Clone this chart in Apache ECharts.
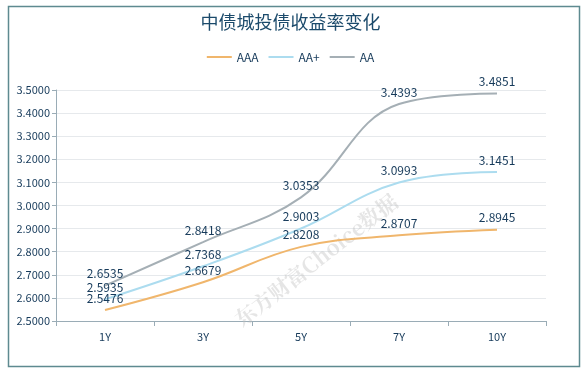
<!DOCTYPE html>
<html><head><meta charset="utf-8">
<script src="https://cdn.jsdelivr.net/npm/echarts@6/dist/echarts.min.js"></script>
<style>html,body{margin:0;padding:0;background:#fff}#c{width:581px;height:368px}</style>
</head><body><div id="c"></div>
<script>
var categories = ['1Y','3Y','5Y','7Y','10Y'];
var aaa = [2.5476, 2.6679, 2.8208, 2.8707, 2.8945];
var aaPlus = [2.5935, 2.7368, 2.9003, 3.0993, 3.1451];
var aa = [2.6535, 2.8418, 3.0353, 3.4393, 3.4851];
var seriesNames = ['AAA','AA+','AA'];

var chart = echarts.init(document.getElementById('c'));
var font = '"Noto Sans CJK SC", "Microsoft YaHei", sans-serif';
function mk(name, data, color){
  return {name:name, type:'line', data:data, smooth:0.4,
    showSymbol:true, symbol:'circle', symbolSize:0,
    lineStyle:{color:color, width:2}, itemStyle:{color:color},
    label:{show:true, position:'top', distance:6, color:'#163a5a', fontSize:12, fontFamily:font,
      formatter:function(p){return Number(p.value).toFixed(4);}}, z:2};
}
chart.setOption({
  backgroundColor:'#fff',
  title:{text:'中债城投债收益率变化', left:'center', top:8,
    textStyle:{color:'#1b4a6b', fontSize:18, fontWeight:'normal', fontFamily:font}},
  legend:{data:seriesNames, top:46, left:'center', itemWidth:25, itemHeight:10, itemGap:10,
    icon:'path://M0,4L25,4L25,6L0,6Z',
    textStyle:{color:'#163a5a', fontSize:12, fontFamily:font}},
  grid:{left:56, right:35, top:90, bottom:47},
  xAxis:{type:'category', data:categories, boundaryGap:true,
    axisLine:{lineStyle:{color:'#9aacb6'}}, axisTick:{show:true, lineStyle:{color:'#9aacb6'}},
    axisLabel:{color:'#163a5a', fontSize:11, fontFamily:font, margin:10}},
  yAxis:{type:'value', min:2.5, max:3.5, interval:0.1,
    axisLine:{show:true, lineStyle:{color:'#9aacb6'}}, axisTick:{show:true, length:4, lineStyle:{color:'#9aacb6'}},
    splitLine:{lineStyle:{color:'#e6e9ec'}},
    axisLabel:{color:'#163a5a', fontSize:11, fontFamily:font, margin:6,
      formatter:function(v){return v.toFixed(4);}}},
  graphic:[
    {type:'rect', left:6, top:4, shape:{width:571, height:360}, style:{fill:'none', stroke:'#5e8a90', lineWidth:1.5}, silent:true, z:10},
    {type:'text', x:316, y:260, rotation:Math.PI*38/180, style:{text:'东方财富Choice数据', fill:'rgba(190,190,190,0.4)', font:'bold 21px "Noto Serif CJK SC", serif', align:'center', verticalAlign:'middle'}, silent:true, z:1}
  ],
  series:[mk('AAA', aaa, '#f0b66c'), mk('AA+', aaPlus, '#acdcef'), mk('AA', aa, '#a5afb5')]
});
</script></body></html>
